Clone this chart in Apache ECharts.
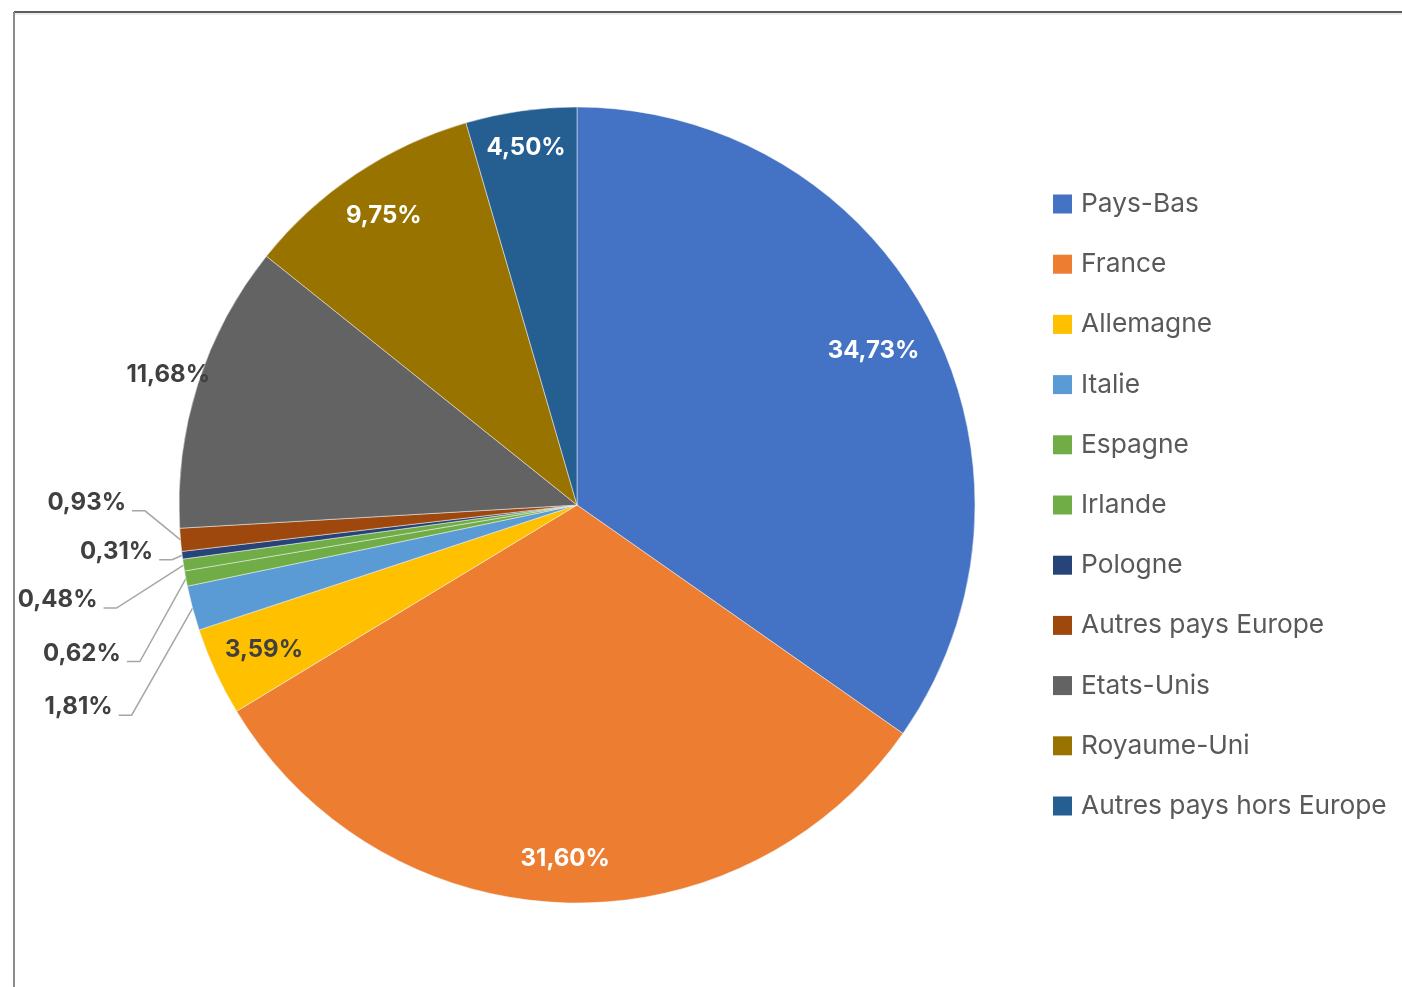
<!DOCTYPE html>
<html>
<head>
<meta charset="utf-8">
<script src="https://cdn.jsdelivr.net/npm/echarts@6/dist/echarts.min.js"></script>
<style>
  html, body { margin: 0; padding: 0; background: #ffffff; }
  #chart { width: 1402px; height: 987px; }
</style>
</head>
<body>
<div id="chart"></div>
<script>
// Country shares (%) going clockwise from 12 o'clock
const countries = ['Pays-Bas', 'France', 'Allemagne', 'Italie', 'Espagne', 'Irlande',
  'Pologne', 'Autres pays Europe', 'Etats-Unis', 'Royaume-Uni', 'Autres pays hors Europe'];
const shares = [34.73, 31.60, 3.59, 1.81, 0.62, 0.48, 0.31, 0.93, 11.68, 9.75, 4.50];

// Slice colours (Office palette)
const sliceColors = ['#4472C4', '#ED7D31', '#FFC000', '#5B9BD5', '#70AD47', '#70AD47',
  '#264478', '#9E480E', '#636363', '#997300', '#255E91'];

// Label text colour per slice
const labelInk = ['#ffffff', '#ffffff', '#404040', '#404040', '#404040', '#404040',
  '#404040', '#404040', '#404040', '#ffffff', '#ffffff'];

// Radius (fraction of pie radius) at which inline labels sit; null = label with leader line
const labelRadius = [0.84, 0.89, 0.866, null, null, null, null, null, 1.078, 0.874, 0.907];

// Leader-line knee offset from the slice rim, for the small slices
const leaderKnee = { 3: [-61, 107], 4: [-46, 83], 5: [-67, 43], 6: [-10, 4.5], 7: [-35.5, -29] };

const CX = 577, CY = 505, R = 398;
const total = shares.reduce((a, b) => a + b, 0);

function midDirection(i) {
  let before = 0;
  for (let k = 0; k < i; k++) before += shares[k];
  const a = (before + shares[i] / 2) / total * Math.PI * 2;
  return [Math.sin(a), -Math.cos(a)];
}

const fmt = v => v.toFixed(2).replace('.', ',') + '%';

const chart = echarts.init(document.getElementById('chart'), null, { renderer: 'canvas' });

chart.setOption({
  animation: false,
  backgroundColor: '#ffffff',
  graphic: [
    { type: 'rect', shape: { x: 14, y: 13, width: 1388, height: 2 }, style: { fill: '#ececec' }, silent: true },
    { type: 'line', shape: { x1: 14, y1: 12, x2: 1402, y2: 12 }, style: { stroke: '#262626', lineWidth: 1.5 }, silent: true },
    { type: 'line', shape: { x1: 14, y1: 12, x2: 14, y2: 987 }, style: { stroke: '#8c8c8c', lineWidth: 2 }, silent: true }
  ],
  legend: {
    orient: 'vertical',
    left: 1048,
    top: 185,
    itemWidth: 19,
    itemHeight: 19,
    itemGap: 32.2,
    icon: 'rect',
    itemStyle: { borderWidth: 0 },
    data: countries,
    textStyle: {
      fontFamily: 'Inter',
      fontSize: 26.3,
      lineHeight: 28,
      color: '#595959',
      padding: [0, 0, 0, 4]
    }
  },
  series: [{
    type: 'pie',
    center: [CX, CY],
    radius: R,
    startAngle: 90,
    clockwise: true,
    avoidLabelOverlap: false,
    itemStyle: { borderColor: '#f4f4f4', borderWidth: 0.5 },
    label: {
      show: true,
      position: 'outside',
      fontFamily: 'Inter',
      fontWeight: 'bold',
      fontSize: 24,
      formatter: p => fmt(p.value)
    },
    labelLine: {
      show: true,
      lineStyle: { color: '#a6a6a6', width: 1.5 }
    },
    labelLayout: function (params) {
      const i = params.dataIndex;
      const d = midDirection(i);
      if (labelRadius[i] != null) {
        return {
          x: CX + R * labelRadius[i] * d[0],
          y: CY + R * labelRadius[i] * d[1],
          align: 'center',
          verticalAlign: 'middle'
        };
      }
      const edge = [CX + R * d[0], CY + R * d[1]];
      const off = leaderKnee[i];
      const knee = [edge[0] + off[0], edge[1] + off[1]];
      const start = [knee[0] - 13, knee[1]];
      return {
        x: start[0] - 6,
        y: knee[1] - 8,
        align: 'right',
        verticalAlign: 'middle',
        labelLinePoints: [edge, knee, start]
      };
    },
    data: countries.map((name, i) => ({
      name: name,
      value: shares[i],
      itemStyle: { color: sliceColors[i] },
      label: {
        color: labelInk[i],
        position: labelRadius[i] != null ? 'inside' : 'outside'
      },
      labelLine: { show: labelRadius[i] == null }
    }))
  }]
});
</script>
</body>
</html>
